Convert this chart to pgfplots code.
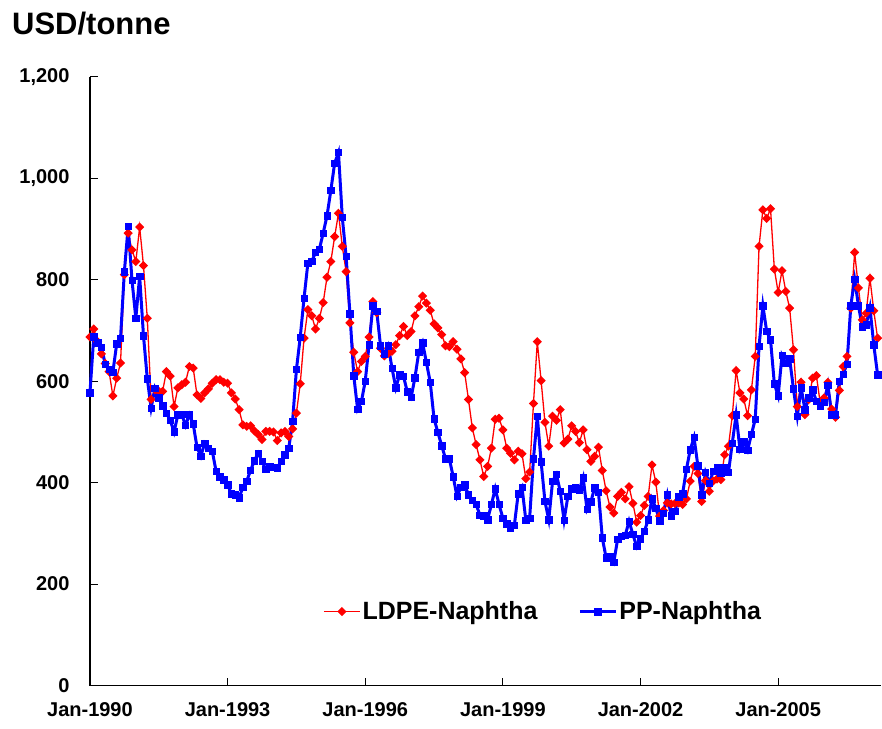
\documentclass[border=0pt]{standalone}
\usepackage{fontspec}
\setmainfont{Liberation Sans}
\usepackage{pgfplots}
\usepackage{pgfplotstable}
\pgfplotsset{compat=1.18}
\pgfplotstableread{
i ldpe pp
0 687 577
1 703 688
2 678 676
3 654 667
4 635 634
5 619 624
6 571 618
7 606 674
8 636 685
9 810 816
10 892 905
11 859 799
12 836 724
13 904 807
14 828 690
15 724 605
16 564 547
17 583 586
18 580 567
19 580 552
20 619 537
21 610 523
22 550 500
23 587 534
24 593 535
25 598 513
26 629 534
27 626 516
28 573 470
29 566 452
30 577 478
31 585 468
32 596 462
33 603 422
34 603 412
35 598 406
36 596 396
37 577 378
38 565 376
39 544 370
40 514 391
41 511 403
42 512 424
43 502 443
44 495 458
45 485 442
46 501 426
47 501 432
48 500 430
49 483 429
50 498 442
51 501 455
52 491 468
53 506 521
54 537 623
55 595 687
56 685 764
57 741 833
58 729 836
59 703 854
60 724 860
61 755 892
62 805 926
63 836 976
64 885 1030
65 931 1051
66 866 923
67 816 846
68 715 733
69 657 611
70 619 545
71 639 560
72 649 600
73 687 672
74 757 749
75 735 738
76 665 670
77 650 654
78 655 670
79 659 626
80 672 587
81 690 613
82 708 610
83 690 579
84 698 568
85 729 607
86 747 657
87 768 676
88 754 637
89 740 598
90 713 526
91 705 499
92 692 473
93 670 447
94 668 447
95 678 412
96 663 373
97 644 391
98 617 396
99 564 376
100 508 365
101 475 357
102 445 336
103 412 335
104 432 327
105 468 357
106 525 388
107 527 357
108 504 330
109 468 319
110 458 311
111 445 316
112 462 378
113 457 391
114 408 326
115 421 330
116 556 447
117 678 531
118 601 441
119 519 363
120 472 327
121 531 403
122 523 416
123 544 383
124 478 326
125 486 373
126 512 388
127 501 391
128 479 386
129 504 410
130 465 347
131 442 362
132 452 390
133 470 381
134 424 291
135 384 252
136 352 255
137 340 243
138 373 288
139 381 294
140 368 296
141 392 324
142 359 298
143 322 274
144 335 289
145 355 304
146 373 327
147 435 368
148 401 350
149 334 325
150 345 340
151 360 376
152 358 335
153 359 343
154 360 372
155 357 378
156 368 426
157 403 465
158 432 489
159 418 433
160 363 376
161 404 420
162 383 399
163 403 422
164 407 429
165 406 418
166 455 429
167 472 420
168 532 478
169 621 534
170 577 466
171 565 481
172 532 464
173 583 495
174 649 525
175 866 669
176 938 749
177 921 698
178 940 682
179 821 595
180 775 571
181 818 651
182 777 636
183 744 644
184 662 585
185 550 531
186 598 587
187 534 544
188 564 567
189 606 583
190 611 560
191 557 552
192 567 558
193 598 592
194 545 534
195 529 534
196 582 600
197 629 614
198 649 634
199 744 749
200 854 801
201 784 749
202 721 707
203 734 711
204 803 745
205 739 672
206 685 613
}\data
\begin{document}
\begin{tikzpicture}
\begin{axis}[
  scale only axis, width=792pt, height=609pt,
  xmin=0, xmax=207, ymin=0, ymax=1200,
  axis x line*=bottom, axis y line*=left,
  axis line style={line width=1.2pt, black},
  tick align=inside, major tick length=8pt,
  tick style={black, line width=1pt},
  xtick={0,36,72,108,144,180},
  xticklabels={Jan-1990,Jan-1993,Jan-1996,Jan-1999,Jan-2002,Jan-2005},
  ytick={0,200,...,1200},
  /pgf/number format/1000 sep={,},
  /pgf/number format/assume math mode=true,
  ticklabel style={font=\fontsize{20}{24}\selectfont\bfseries},
  yticklabel style={xshift=-17pt},
  xticklabel style={yshift=-14pt},
  clip=false,
  legend style={draw=none, fill=none, at={(0.5726,0.1215)}, anchor=center,
    font=\fontsize{25}{30}\selectfont\bfseries, legend columns=2,
    /tikz/every even column/.append style={column sep=39pt}},
  legend image code/.code={\draw[mark repeat=2,mark phase=2] plot coordinates {(0pt,0pt)(18pt,0pt)(36pt,0pt)};},
]
\addplot[color=red, line width=1.3pt, mark=square*, mark size=2.6pt, mark options={rotate=45, solid, fill=red}] table[x=i, y=ldpe] {\data};
\addlegendentry{LDPE-Naphtha}
\addplot[color=blue, line width=3pt, mark=square*, mark size=3.2pt, mark options={solid, fill=blue, line width=0.5pt}] table[x=i, y=pp] {\data};
\addlegendentry{PP-Naphtha}
\node[anchor=base west, inner sep=0pt, font=\fontsize{31}{36}\selectfont\bfseries] at ([xshift=-78pt,yshift=42pt]rel axis cs:0,1) {USD/tonne};
\path[draw=none] (rel axis cs:-0.11364,-0.0706) rectangle (rel axis cs:1,1.1264);
\end{axis}
\end{tikzpicture}
\end{document}
